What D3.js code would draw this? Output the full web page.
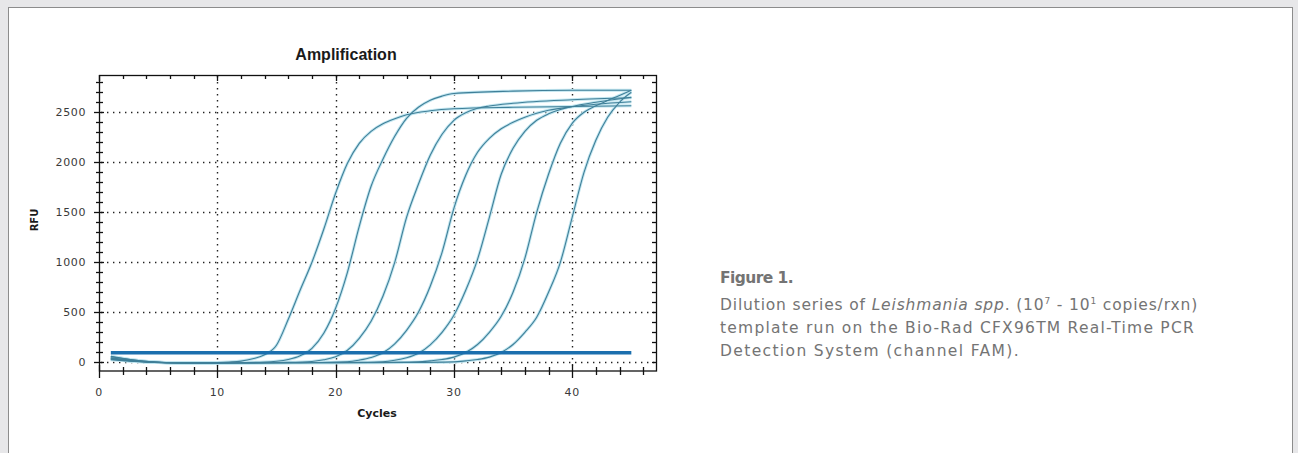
<!DOCTYPE html>
<html>
<head>
<meta charset="utf-8">
<script src="https://cdn.jsdelivr.net/npm/d3@7"></script>
<style>
body { margin: 0; background: #e7e7e9; }
svg { display: block; }
</style>
</head>
<body>
<svg id="fig" width="1298" height="453"></svg>
<script>
// amplification curves, [cycle, RFU], one per dilution (10^7 .. 10^1)
const curve_1e7 = [[1,55],[2,38],[3,22],[4,10],[5,2],[6,-4],[7,-6],[8,-6],[9,-4],[10,-2],[11,3],[12,12],[13,35],[14,75],[15,170],[16,430],[17,720],[18,1000],[19,1330],[20,1690],[21,1990],[22,2190],[23,2310],[24,2385],[25,2435],[26,2475],[28,2515],[30,2535],[35,2550],[40,2558],[45,2565]];
const curve_1e6 = [[1,45],[2,30],[3,16],[4,6],[5,0],[6,-5],[8,-6],[10,-4],[12,-2],[14,2],[15,10],[16,28],[17,65],[18,140],[19,290],[20,540],[21,900],[22,1360],[23,1760],[24,2030],[25,2260],[26,2440],[27,2550],[28,2620],[29,2662],[30,2688],[35,2712],[40,2720],[45,2720]];
const curve_1e5 = [[1,35],[2,24],[3,12],[4,4],[5,-2],[7,-6],[10,-5],[13,-3],[16,0],[18,8],[19,25],[20,55],[21,120],[22,240],[23,410],[24,660],[25,1000],[26,1450],[27,1780],[28,2070],[29,2280],[30,2420],[31,2495],[32,2540],[33,2563],[35,2590],[40,2625],[45,2645]];
const curve_1e4 = [[1,60],[2,40],[3,22],[4,9],[5,1],[7,-5],[10,-6],[14,-4],[18,-2],[21,6],[22,22],[23,48],[24,95],[25,185],[26,320],[27,500],[28,760],[29,1100],[30,1540],[31,1870],[32,2100],[33,2240],[34,2335],[35,2400],[36,2450],[37,2490],[38,2520],[40,2555],[42,2580],[45,2605]];
const curve_1e3 = [[1,30],[2,20],[3,10],[4,3],[5,-2],[8,-6],[12,-5],[17,-3],[21,-1],[24,6],[25,20],[26,45],[27,90],[28,175],[29,300],[30,470],[31,720],[32,1030],[33,1450],[34,1880],[35,2140],[36,2310],[37,2420],[38,2485],[39,2528],[40,2558],[42,2600],[45,2650]];
const curve_1e2 = [[1,40],[2,27],[3,14],[4,5],[5,-1],[8,-6],[13,-6],[18,-4],[23,-2],[27,4],[28,14],[29,28],[30,52],[31,98],[32,178],[33,300],[34,460],[35,700],[36,1040],[37,1500],[38,1880],[39,2190],[40,2390],[41,2500],[42,2565],[43,2618],[44,2668],[45,2720]];
const curve_1e1 = [[1,25],[2,17],[3,8],[4,2],[5,-3],[9,-6],[15,-5],[21,-4],[26,-2],[30,4],[31,14],[32,28],[33,52],[34,98],[35,178],[36,300],[37,450],[38,700],[39,1000],[40,1450],[41,1900],[42,2220],[43,2450],[44,2600],[45,2700]];
const curves = [curve_1e7, curve_1e6, curve_1e5, curve_1e4, curve_1e3, curve_1e2, curve_1e1];

const threshold_rfu = 95;
const threshold_cycles = [1, 45];

const x_major = [0, 10, 20, 30, 40];
const x_minor = [2, 4, 6, 8, 12, 14, 16, 18, 22, 24, 26, 28, 32, 34, 36, 38, 42, 44, 46];
const y_major = [0, 500, 1000, 1500, 2000, 2500];
const y_minor = [100, 200, 300, 400, 600, 700, 800, 900, 1100, 1200, 1300, 1400, 1600, 1700, 1800, 1900, 2100, 2200, 2300, 2400, 2600, 2700, 2800];

const svg = d3.select("#fig");

// white panel
svg.append("rect").attr("x", 8.5).attr("y", 7.5).attr("width", 1284).attr("height", 460)
	.style("fill", "#fff").style("stroke", "#8c8c8c");

const x = d3.scaleLinear().domain([0, 47.17]).range([99, 657]);
const y = d3.scaleLinear().domain([-87, 2873]).range([371, 75]);
const px = v => Math.round(v) + 0.5;

const plot = svg.append("g");

// dotted grid
function dotted(sel) {
	return sel.style("stroke", "#222").style("stroke-width", 1.4).style("stroke-dasharray", "1.4,4.6");
}
dotted(plot.selectAll(".gx").data(x_major.slice(1)).enter().append("line")
	.attr("x1", d => px(x(d))).attr("x2", d => px(x(d)))
	.attr("y1", 76).attr("y2", 370));
dotted(plot.selectAll(".gy").data(y_major).enter().append("line")
	.attr("y1", d => px(y(d))).attr("y2", d => px(y(d)))
	.attr("x1", 101).attr("x2", 656));

// curves
const line = d3.line().x(d => x(d[0])).y(d => y(d[1])).curve(d3.curveMonotoneX);
plot.selectAll(".halo").data(curves).enter().append("path")
	.attr("d", line).style("fill", "none").style("stroke", "#c2e6f0").style("stroke-width", 3);
plot.selectAll(".amp").data(curves).enter().append("path")
	.attr("d", line).style("fill", "none").style("stroke", "#3f7f98").style("stroke-width", 1.1);

// threshold
plot.append("line")
	.attr("x1", x(threshold_cycles[0])).attr("x2", x(threshold_cycles[1]))
	.attr("y1", y(threshold_rfu)).attr("y2", y(threshold_rfu))
	.style("stroke", "#1b6fae").style("stroke-width", 3.4);

// frame
const ax = svg.append("g").style("stroke", "#111").style("stroke-width", 1.3);
ax.append("rect").attr("x", 99.5).attr("y", 75.5).attr("width", 557).attr("height", 295.5)
	.style("fill", "none");

// left axis ticks (crossing)
ax.selectAll(".ylm").data(y_major).enter().append("line")
	.attr("x1", 94).attr("x2", 104).attr("y1", d => px(y(d))).attr("y2", d => px(y(d)));
ax.selectAll(".yln").data(y_minor).enter().append("line")
	.attr("x1", 96).attr("x2", 103).attr("y1", d => px(y(d))).attr("y2", d => px(y(d)));
// right axis ticks (inward)
ax.selectAll(".yr").data(y_major.concat(y_minor)).enter().append("line")
	.attr("x1", 652).attr("x2", 657).attr("y1", d => px(y(d))).attr("y2", d => px(y(d)));
// bottom axis ticks
ax.selectAll(".xbm").data(x_major).enter().append("line")
	.attr("y1", 365).attr("y2", 378).attr("x1", d => px(x(d))).attr("x2", d => px(x(d)));
ax.selectAll(".xbn").data(x_minor).enter().append("line")
	.attr("y1", 367).attr("y2", 375).attr("x1", d => px(x(d))).attr("x2", d => px(x(d)));
// top axis ticks (inward)
ax.selectAll(".xtm").data(x_major).enter().append("line")
	.attr("y1", 75).attr("y2", 81).attr("x1", d => px(x(d))).attr("x2", d => px(x(d)));
ax.selectAll(".xtn").data(x_minor).enter().append("line")
	.attr("y1", 75).attr("y2", 79).attr("x1", d => px(x(d))).attr("x2", d => px(x(d)));

// tick labels
const lab = svg.append("g").style("font-family", "'DejaVu Sans', Verdana, sans-serif")
	.style("font-size", "11px").style("letter-spacing", "0.6px").style("fill", "#3a3a3a");
lab.selectAll(".yl").data(y_major).enter().append("text")
	.attr("x", 86).attr("y", d => y(d) + 4).attr("text-anchor", "end").text(d => d);
lab.selectAll(".xl").data(x_major).enter().append("text")
	.attr("x", d => x(d)).attr("y", 396).attr("text-anchor", "middle").text(d => d);

// titles
const bold = svg.append("g").style("font-weight", "bold").style("fill", "#1a1a1a");
bold.append("text").attr("x", 346).attr("y", 60).attr("text-anchor", "middle")
	.style("font-family", "'Liberation Sans', Arial, sans-serif")
	.style("font-size", "16px").text("Amplification");
bold.append("text").attr("x", 377).attr("y", 417).attr("text-anchor", "middle")
	.style("font-family", "'DejaVu Sans', Verdana, sans-serif")
	.style("font-size", "11px").text("Cycles");
bold.append("text").attr("transform", "translate(38,220) rotate(-90)").attr("text-anchor", "middle")
	.style("font-family", "'DejaVu Sans', Verdana, sans-serif")
	.style("font-size", "10px").text("RFU");

// caption
const cap = svg.append("g").style("font-family", "'DejaVu Sans', sans-serif").style("fill", "#747474")
	.style("font-size", "15.5px");
const c0 = cap.append("text").attr("x", 720).attr("y", 283).style("font-weight", "bold").text("Figure 1.");
const l1 = cap.append("text").attr("x", 720).attr("y", 310);
l1.append("tspan").text("Dilution series of ");
l1.append("tspan").style("font-style", "italic").text("Leishmania spp");
l1.append("tspan").text(". (10");
l1.append("tspan").attr("dy", -6).style("font-size", "9px").text("7");
l1.append("tspan").attr("dy", 6).text(" - 10");
l1.append("tspan").attr("dy", -6).style("font-size", "9px").text("1");
l1.append("tspan").attr("dy", 6).text(" copies/rxn)");
const l2 = cap.append("text").attr("x", 720).attr("y", 333).text("template run on the Bio-Rad CFX96TM Real-Time PCR");
const l3 = cap.append("text").attr("x", 720).attr("y", 356).text("Detection System (channel FAM).");

// stretch caption lines to the widths they take in the figure
[[c0, 73], [l1, 478], [l2, 475], [l3, 300]].forEach(([t, w]) => {
	const n = t.text().length;
	const cur = t.node().getComputedTextLength();
	t.style("letter-spacing", ((w - cur) / n) + "px");
});
</script>
</body>
</html>
